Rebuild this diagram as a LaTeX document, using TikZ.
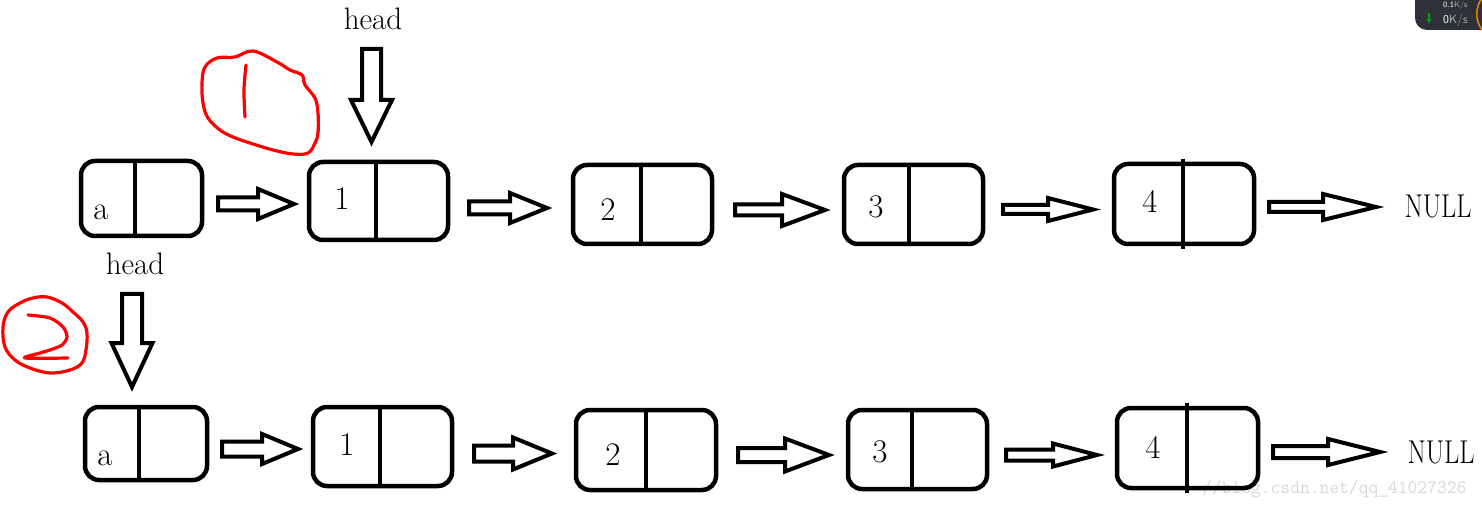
\documentclass[tikz,border=0pt]{standalone}
\usepackage{graphicx}
\usetikzlibrary{calc,arrows.meta}
\definecolor{widgetdark}{HTML}{2E3238}
\definecolor{wmgray}{HTML}{D8D8D8}
\newcommand\lblfont{\fontsize{33}{40}\selectfont}
\newcommand\headfont{\fontsize{31}{37}\selectfont}
% horizontal block arrow: start, tip, shaft length, shaft half width, head half width
\newcommand\harrow[5]{%
  \draw[blockarr] let \p1=(#1), \p2=(#2) in
  (\x1,\y1+#4) -- (\x1+#3,\y1+#4) -- (\x1+#3,\y1+#5) -- (\x2,\y2) --
  (\x1+#3,\y1-#5) -- (\x1+#3,\y1-#4) -- (\x1,\y1-#4) -- cycle;}
% downward block arrow
\newcommand\varrow[5]{%
  \draw[blockarr] let \p1=(#1), \p2=(#2) in
  (\x1-#4,\y1) -- (\x1+#4,\y1) -- (\x1+#4,\y1-#3) -- (\x1+#5,\y1-#3) -- (\x2,\y2) --
  (\x1-#5,\y1-#3) -- (\x1-#4,\y1-#3) -- cycle;}
\begin{document}
\begin{tikzpicture}[x=1pt,y=-1pt,
  cell/.style={draw, line width=4.5pt, rounded corners=14pt, inner sep=0pt},
  divider/.style={line width=4pt},
  blockarr/.style={draw, line width=4pt, line join=miter},
  lbl/.style={anchor=base, inner sep=0pt, font=\lblfont},
  headlbl/.style={anchor=base, inner sep=0pt, font=\headfont},
  nulllbl/.style={anchor=base, inner sep=0pt, font=\lblfont},
  redmark/.style={draw=red, line width=3.2pt, line cap=round, line join=round}]
\useasboundingbox (0,0) rectangle (1482,510);
\clip (0,0) rectangle (1482,510);
\fill[white] (0,0) rectangle (1482,510);

% watermark
\node[anchor=base west, inner sep=0pt, text=wmgray, font=\ttfamily\fontsize{19}{22}\selectfont] (wm) at (1202,493) {//blog.csdn.net/qq\_41027326};

% top-right widget
\fill[widgetdark, rounded corners=12pt] (1415,-20) rectangle (1500,30);
\node[anchor=base west, inner sep=0pt, text=white, font=\sffamily\fontsize{8}{9}\selectfont] (w1) at (1443,8) {0.1\textcolor{gray!60}{K/s}};
\node[anchor=base west, inner sep=0pt, text=white, font=\sffamily\fontsize{12}{14}\selectfont] (w2) at (1443,24) {0\textcolor{gray!60}{K/s}};
\coordinate (wa1) at (1429,13);
\coordinate (wa2) at (1429,23);
\draw[green!65!black, line width=1.6pt, -{Stealth[length=4pt,width=5pt]}] (wa1) -- (wa2);
\coordinate (wo1) at (1482,-2);
\coordinate (wo2) at (1482,30);
\draw[orange!80!brown, line width=1.5pt] (wo1) .. controls (1475,8) and (1475,20) .. (wo2);

% ---------- top row ----------
\node[cell, minimum width=121pt, minimum height=75pt] (A1) at (141.5,198.5) {};
\node[cell, minimum width=139pt, minimum height=78pt] (B1) at (378.5,201) {};
\node[cell, minimum width=139pt, minimum height=79pt] (C1) at (642.5,204.5) {};
\node[cell, minimum width=139pt, minimum height=79pt] (D1) at (913.5,204.5) {};
\node[cell, minimum width=140pt, minimum height=80pt] (E1) at (1184,204) {};
\draw[divider] ([xshift=-6.5pt]A1.north) -- ([xshift=-6.5pt]A1.south);
\draw[divider] ([xshift=-2.5pt]B1.north) -- ([xshift=-2.5pt]B1.south);
\draw[divider] ([xshift=-1.5pt]C1.north) -- ([xshift=-1.5pt]C1.south);
\draw[divider] ([xshift=-5pt]D1.north) -- ([xshift=-5pt]D1.south);
\draw[divider] ([xshift=-1pt,yshift=3pt]E1.north) -- ([xshift=-1pt,yshift=-3pt]E1.south);

\node[lbl] (tA1) at (101,220) {a};
\node[lbl] (tB1) at (342,210) {1};
\node[lbl] (tC1) at (608,221) {2};
\node[lbl] (tD1) at (876,218) {3};
\node[lbl] (tE1) at (1150,213) {4};
\node[nulllbl] (N1) at (1438,218) {\scalebox{0.8}[1]{NULL}};
\node[headlbl] (H1) at (373,30) {head};

\coordinate (hs1) at (371.5,49);
\coordinate (ht1) at (371.5,142);
\varrow{hs1}{ht1}{51pt}{9.5pt}{20.5pt}

\coordinate (s11) at (218,204);   \coordinate (t11) at (294,204);
\coordinate (s12) at (469,208);   \coordinate (t12) at (547,208);
\coordinate (s13) at (735,210);   \coordinate (t13) at (825,210);
\coordinate (s14) at (1003,209.5);\coordinate (t14) at (1093,209.5);
\coordinate (s15) at (1269,207);  \coordinate (t15) at (1376,207);
\harrow{s11}{t11}{40pt}{6.5pt}{15pt}
\harrow{s12}{t12}{41pt}{6.5pt}{15pt}
\harrow{s13}{t13}{47pt}{5.5pt}{16pt}
\harrow{s14}{t14}{45pt}{4.5pt}{11.5pt}
\harrow{s15}{t15}{54pt}{5pt}{13pt}

% ---------- bottom row ----------
\node[cell, minimum width=122pt, minimum height=73pt] (A2) at (146,443.5) {};
\node[cell, minimum width=139pt, minimum height=79pt] (B2) at (382.5,446.5) {};
\node[cell, minimum width=140pt, minimum height=80pt] (C2) at (646,450) {};
\node[cell, minimum width=139pt, minimum height=79pt] (D2) at (917.5,449.5) {};
\node[cell, minimum width=141pt, minimum height=80pt] (E2) at (1187.5,448) {};
\draw[divider] ([xshift=-7pt]A2.north) -- ([xshift=-7pt]A2.south);
\draw[divider] ([xshift=-2.5pt]B2.north) -- ([xshift=-2.5pt]B2.south);
\draw[divider] ([xshift=0pt]C2.north) -- ([xshift=0pt]C2.south);
\draw[divider] ([xshift=-5.5pt]D2.north) -- ([xshift=-5.5pt]D2.south);
\draw[divider] ([xshift=-0.5pt,yshift=3pt]E2.north) -- ([xshift=-0.5pt,yshift=-3pt]E2.south);

\node[lbl] (tA2) at (105,465) {a};
\node[lbl] (tB2) at (347,455) {1};
\node[lbl] (tC2) at (613,465) {2};
\node[lbl] (tD2) at (880,462) {3};
\node[lbl] (tE2) at (1153,458) {4};
\node[nulllbl] (N2) at (1441,463) {\scalebox{0.8}[1]{NULL}};
\node[headlbl] (H2) at (135,275) {head};

\coordinate (hs2) at (132,294);
\coordinate (ht2) at (132,387);
\varrow{hs2}{ht2}{49pt}{10pt}{20.5pt}

\coordinate (s21) at (222,449);   \coordinate (t21) at (298,449);
\coordinate (s22) at (474,453.5); \coordinate (t22) at (552,453.5);
\coordinate (s23) at (738,455);   \coordinate (t23) at (829,455);
\coordinate (s24) at (1006,455);  \coordinate (t24) at (1097,455);
\coordinate (s25) at (1273,452);  \coordinate (t25) at (1380,452);
\harrow{s21}{t21}{40pt}{7.5pt}{15pt}
\harrow{s22}{t22}{39pt}{8pt}{16pt}
\harrow{s23}{t23}{47pt}{7pt}{16.5pt}
\harrow{s24}{t24}{47pt}{5.5pt}{11.5pt}
\harrow{s25}{t25}{55pt}{6pt}{13pt}

% ---------- red hand-drawn marks ----------
\draw[redmark] plot[smooth cycle, tension=0.6] coordinates {
 (235,57) (253,51) (277,62) (290,70) (302,75) (305,85) (315,98) (318,113)
 (318,133) (315,143) (308,153) (293,154) (273,150) (250,143) (233,137)
 (220,130) (208,118) (203,103) (202,83) (205,67) (217,58)};
\draw[redmark] plot[smooth, tension=0.6] coordinates {(246,65) (244,90) (245,117)};

\draw[redmark] plot[smooth cycle, tension=0.6] coordinates {
 (20,303) (8,312) (3,327) (5,347) (15,360) (30,368) (50,373) (70,370)
 (82,363) (86,350) (87,333) (83,322) (73,312) (62,303) (47,297) (33,298)};
\draw[redmark] plot[smooth, tension=0.5] coordinates {
 (28,315) (50,318) (63,327) (67,337) (62,345) (50,350) (40,353) (25,358) (68,358)};
\end{tikzpicture}
\end{document}
